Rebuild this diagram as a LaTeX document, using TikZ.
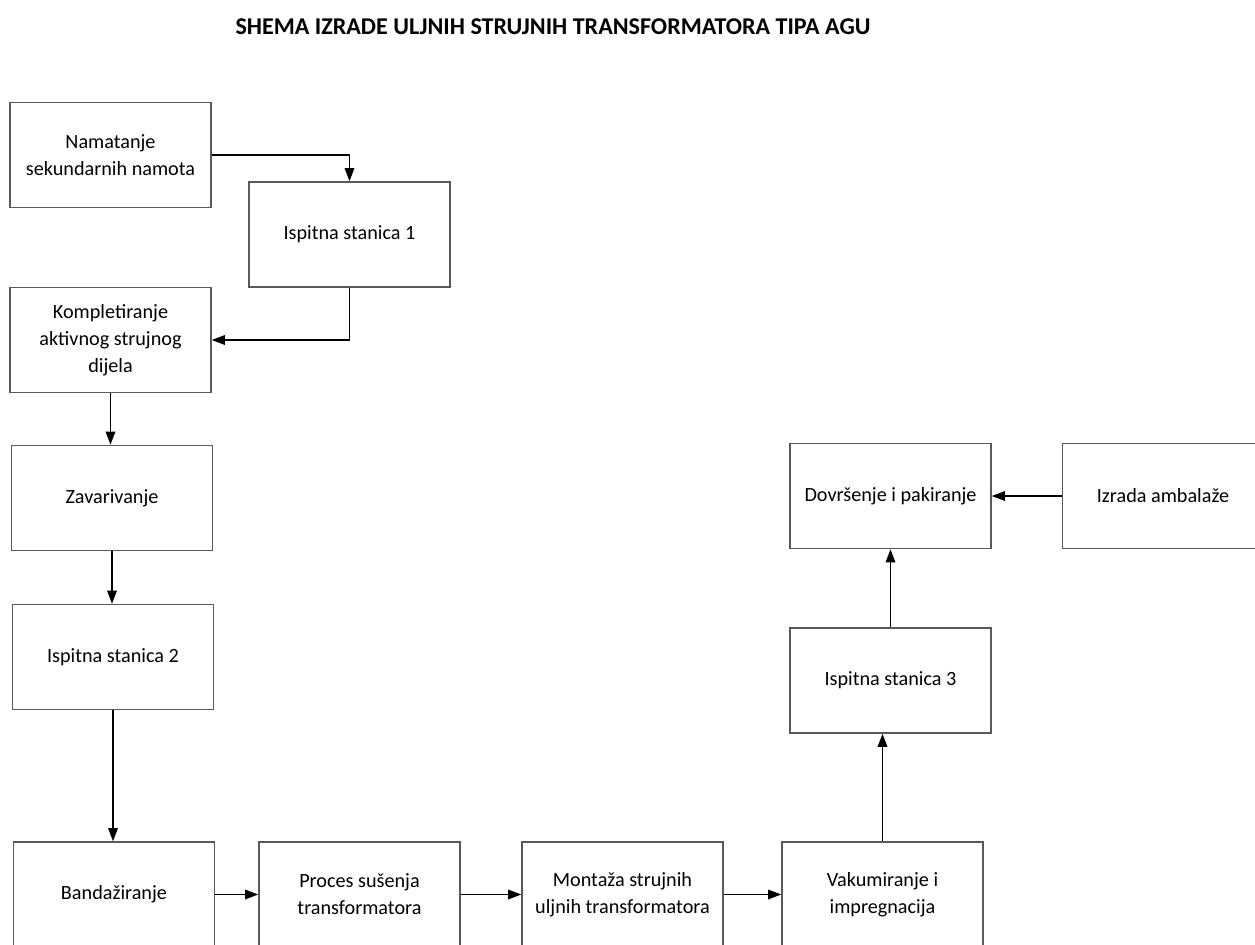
\documentclass[tikz,border=0pt]{standalone}
\usepackage{fontspec}
\setmainfont{Carlito}
\usetikzlibrary{arrows.meta}

\begin{document}
\begin{tikzpicture}[
        x=0.02cm,y=-0.02cm,
        box/.style={
            draw=black!65,
            line width=0.9pt,
            minimum width=4.02cm,
            minimum height=2.1cm,
            align=center,
            inner sep=2pt,
            font=\fontsize{11.5}{15.3}\selectfont
            },
        flow/.style={
            -{Triangle[length=7.5pt,width=5.5pt]},
            line width=0.75pt
            }
        ]
    \useasboundingbox (0,0) rectangle (1255,944);

    % Title:
    \node (title) at (553,27) {\fontsize{13.7}{16}\selectfont\bfseries SHEMA IZRADE ULJNIH STRUJNIH TRANSFORMATORA TIPA AGU};

    % Left column:
    \node[box] (namatanje) at (110.5,155) {Namatanje\\sekundarnih namota};
    \node[box] (ispit1)    at (349.5,234.5) {Ispitna stanica 1};
    \node[box] (komplet)   at (110.5,340) {Kompletiranje\\aktivnog strujnog\\dijela};
    \node[box] (zavar)     at (112,498) {Zavarivanje};
    \node[box] (ispit2)    at (113,657) {Ispitna stanica 2};

    % Bottom row:
    \node[box] (bandaz)    at (114,894.5) {Banda\v{z}iranje};
    \node[box] (susenje)   at (359.5,894.5) {Proces su\v{s}enja\\transformatora};
    \node[box] (montaza)   at (622.5,894.5) {Monta\v{z}a strujnih\\uljnih transformatora};
    \node[box] (vakum)     at (882.5,894.5) {Vakumiranje i\\impregnacija};

    % Right column:
    \node[box] (ispit3)    at (890.5,680.5) {Ispitna stanica 3};
    \node[box] (dovrs)     at (890.5,496) {Dovr\v{s}enje i pakiranje};
    \node[box] (ambal)     at (1163,496) {Izrada ambala\v{z}e};

    % Connectors:
    \draw[flow] (namatanje.east) -| (ispit1.north);
    \draw[flow] (ispit1.south) |- (komplet.east);
    \draw[flow] (komplet.south) -- (komplet.south |- zavar.north);
    \draw[flow] (zavar.south) -- (zavar.south |- ispit2.north);
    \draw[flow] (ispit2.south) -- (ispit2.south |- bandaz.north);
    \foreach \a/\b in {bandaz/susenje, susenje/montaza, montaza/vakum}
        \draw[flow] (\a.east) -- (\b.west);
    \draw[flow] (vakum.north) -- (vakum.north |- ispit3.south);
    \draw[flow] (ispit3.north) -- (dovrs.south);
    \draw[flow] (ambal.west) -- (dovrs.east);
\end{tikzpicture}
\end{document}
